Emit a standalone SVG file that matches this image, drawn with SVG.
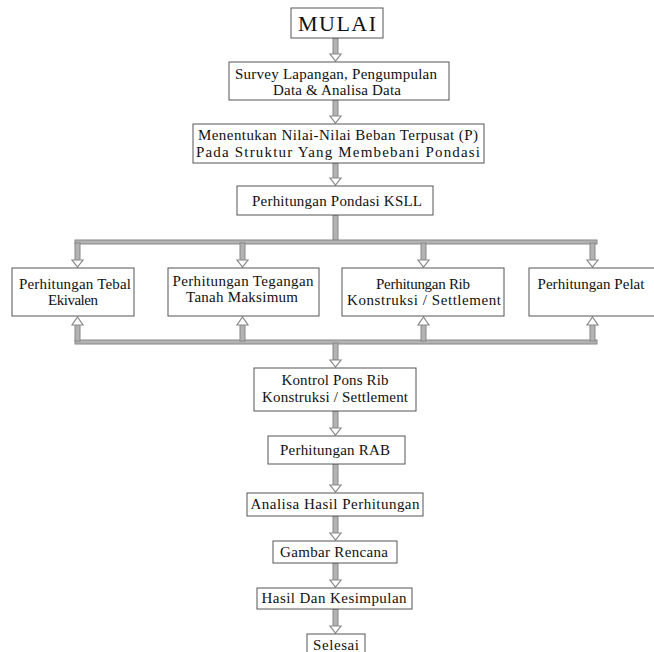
<svg xmlns="http://www.w3.org/2000/svg" width="654" height="652" viewBox="0 0 654 652">
<style>
.box{fill:#fff;stroke:#555;stroke-width:1}
.t{font-family:"Liberation Serif","Times New Roman",serif;font-size:15px;fill:#111;text-anchor:middle}
.big{font-size:22px}
.sh{fill:#b3b3b3;stroke:#888;stroke-width:1}
.hd{fill:#fff;stroke:#888;stroke-width:1.2}
</style>
<rect width="654" height="652" fill="#fff"/>
<g id="connectors">
<rect class="sh" x="333" y="38" width="5" height="17"/><polygon class="hd" points="330,54 341,54 335.5,61"/>
<rect class="sh" x="333" y="100" width="5" height="17"/><polygon class="hd" points="330,116 341,116 335.5,123"/>
<rect class="sh" x="333" y="163" width="5" height="16"/><polygon class="hd" points="330,178 341,178 335.5,185"/>
<rect class="sh" x="333" y="215" width="5" height="25"/>
<rect class="sh" x="75" y="240" width="522" height="4"/>
<rect class="sh" x="75" y="243" width="5" height="18"/><polygon class="hd" points="72,260 83,260 77.5,267"/>
<rect class="sh" x="240" y="243" width="5" height="18"/><polygon class="hd" points="237,260 248,260 242.5,267"/>
<rect class="sh" x="421" y="243" width="5" height="18"/><polygon class="hd" points="418,260 429,260 423.5,267"/>
<rect class="sh" x="590" y="243" width="5" height="18"/><polygon class="hd" points="587,260 598,260 592.5,267"/>
<rect class="sh" x="75" y="340" width="522" height="4"/>
<rect class="sh" x="75" y="324" width="5" height="17"/><polygon class="hd" points="72,325 83,325 77.5,317"/>
<rect class="sh" x="240" y="324" width="5" height="17"/><polygon class="hd" points="237,325 248,325 242.5,317"/>
<rect class="sh" x="421" y="324" width="5" height="17"/><polygon class="hd" points="418,325 429,325 423.5,317"/>
<rect class="sh" x="590" y="324" width="5" height="17"/><polygon class="hd" points="587,325 598,325 592.5,317"/>
<rect class="sh" x="333" y="343" width="5" height="17"/><polygon class="hd" points="330,360 341,360 335.5,367"/>
<rect class="sh" x="333" y="411" width="5" height="18"/><polygon class="hd" points="330,428 341,428 335.5,435"/>
<rect class="sh" x="333" y="464" width="5" height="22"/><polygon class="hd" points="330,485 341,485 335.5,492"/>
<rect class="sh" x="333" y="516" width="5" height="18"/><polygon class="hd" points="330,533 341,533 335.5,540"/>
<rect class="sh" x="333" y="563" width="5" height="18"/><polygon class="hd" points="330,580 341,580 335.5,587"/>
<rect class="sh" x="333" y="609" width="5" height="18"/><polygon class="hd" points="330,626 341,626 335.5,633"/>
</g>
<g id="mulai"><rect class="box" x="291" y="8" width="92" height="30"/><text class="t big" x="337" y="31" textLength="78">MULAI</text></g>
<g id="survey"><rect class="box" x="229" y="62" width="220" height="38"/><text class="t" x="336" y="79" textLength="202">Survey Lapangan, Pengumpulan</text><text class="t" x="337" y="95" textLength="128">Data &amp; Analisa Data</text></g>
<g id="menentukan"><rect class="box" x="193" y="124" width="291" height="39"/><text class="t" x="338" y="140" textLength="280">Menentukan Nilai-Nilai Beban Terpusat (P)</text><text class="t" x="338" y="157" textLength="284">Pada Struktur Yang Membebani Pondasi</text></g>
<g id="ksll"><rect class="box" x="237" y="186" width="196" height="29"/><text class="t" x="337" y="206" textLength="170">Perhitungan Pondasi KSLL</text></g>
<g id="tebal"><rect class="box" x="12" y="268" width="122" height="48"/><text class="t" x="75" y="289" textLength="112">Perhitungan Tebal</text><text class="t" x="73" y="305" textLength="50">Ekivalen</text></g>
<g id="tegangan"><rect class="box" x="168" y="268" width="151" height="48"/><text class="t" x="243" y="286" textLength="141">Perhitungan Tegangan</text><text class="t" x="242" y="302" textLength="112">Tanah Maksimum</text></g>
<g id="rib"><rect class="box" x="342" y="268" width="162" height="48"/><text class="t" x="423" y="289" textLength="94">Perhitungan Rib</text><text class="t" x="424" y="305" textLength="154">Konstruksi / Settlement</text></g>
<g id="pelat"><rect class="box" x="529" y="268" width="126" height="48"/><text class="t" x="591" y="289" textLength="107">Perhitungan Pelat</text></g>
<g id="kontrol"><rect class="box" x="254" y="368" width="162" height="43"/><text class="t" x="335" y="385" textLength="107">Kontrol Pons Rib</text><text class="t" x="335" y="402" textLength="146">Konstruksi / Settlement</text></g>
<g id="rab"><rect class="box" x="268" y="436" width="137" height="28"/><text class="t" x="335" y="455" textLength="110">Perhitungan RAB</text></g>
<g id="analisa"><rect class="box" x="247" y="493" width="176" height="23"/><text class="t" x="335" y="509" textLength="169">Analisa Hasil Perhitungan</text></g>
<g id="gambar"><rect class="box" x="273" y="541" width="124" height="22"/><text class="t" x="334" y="557" textLength="108">Gambar Rencana</text></g>
<g id="hasil"><rect class="box" x="257" y="588" width="155" height="21"/><text class="t" x="334" y="603" textLength="145">Hasil Dan Kesimpulan</text></g>
<g id="selesai"><rect class="box" x="307" y="634" width="58" height="22"/><text class="t" x="336" y="650" textLength="46">Selesai</text></g>
</svg>
